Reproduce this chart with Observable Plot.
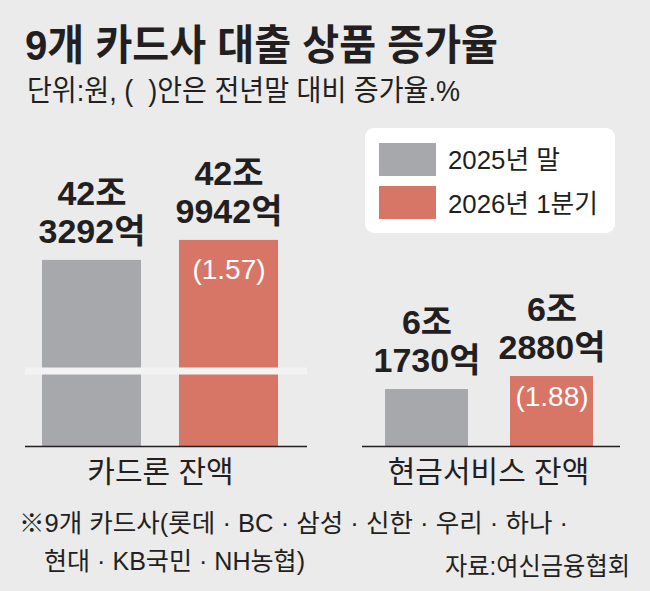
<!DOCTYPE html>
<html><head><meta charset="utf-8">
<script src="https://cdn.jsdelivr.net/npm/d3@7"></script>
<script src="https://cdn.jsdelivr.net/npm/@observablehq/plot@0.6"></script>
<style>
body{margin:0;background:#ebebeb;}
#wrap{position:relative;width:650px;height:591px;background:#ebebeb;overflow:hidden;font-family:"Liberation Sans","Noto Sans CJK KR",sans-serif;color:#231f20;}
.t{position:absolute;white-space:pre;line-height:1;}
.panel{position:absolute;top:120px;}
</style></head><body>
<div id="wrap"></div>
<script>
// ---- data ----
const series = ["2025년 말", "2026년 1분기"];
const seriesColors = ["#a7a8ab", "#d77566"];
const categories = ["카드론 잔액", "현금서비스 잔액"];
const cardLoan = [42.3292, 42.9942];   // 조원
const cashService = [6.1730, 6.2880];  // 조원
const growthRates = [1.57, 1.88];      // 전년말 대비 증가율 %
const titleText = "9개 카드사 대출 상품 증가율";
const subtitleText = "단위:원, (  )안은 전년말 대비 증가율.%";
const noteLines = ["※9개 카드사(롯데 · BC · 삼성 · 신한 · 우리 · 하나 ·", "현대 · KB국민 · NH농협)"];
const sourceText = "자료:여신금융협회";

const wrap = document.getElementById("wrap");
const FONT = "Liberation Sans, Noto Sans CJK KR, sans-serif";

// place an HTML text and squeeze it horizontally to a target width
function htmlText(parent, txt, css, targetWidth, origin) {
  const d = document.createElement("div");
  d.className = "t";
  d.textContent = txt;
  Object.assign(d.style, css);
  parent.appendChild(d);
  const w = d.getBoundingClientRect().width;
  d.style.transformOrigin = origin || "left center";
  d.style.transform = `scaleX(${targetWidth / w})`;
  return d;
}

htmlText(wrap, titleText, {left: "25px", top: "25px", fontSize: "42px", fontWeight: "700"}, 473);
htmlText(wrap, subtitleText, {left: "27px", top: "77px", fontSize: "29px"}, 433);
htmlText(wrap, noteLines[0], {left: "19px", top: "511px", fontSize: "25px"}, 549);
htmlText(wrap, noteLines[1], {left: "44px", top: "549px", fontSize: "25px"}, 261);
htmlText(wrap, sourceText, {right: "20px", top: "554px", fontSize: "25px"}, 185, "right center");

const zo = v => `${Math.floor(v)}조`;
const eok = v => `${Math.round((v - Math.floor(v)) * 10000)}억`;

function panel({category, values, growth, yDomain, width, marginLeft, marginRight, xRange, paddingInner, growthDy, breakAt, labelDx}) {
  const data = series.map((s, i) => ({series: s, value: values[i]}));
  const marks = [
    Plot.barY(data, {x: "series", y1: yDomain[0], y2: "value", fill: "series"})
  ];
  if (breakAt != null) marks.push(Plot.ruleY([breakAt], {stroke: "#f3f3f3", strokeWidth: 7}));
  marks.push(
    Plot.ruleY([yDomain[0]], {stroke: "#231f20", strokeWidth: 1.5}),
    Plot.text(data, {x: "series", y: "value", text: d => eok(d.value), dy: -28, fontSize: 34, fontWeight: "bold", fill: "#231f20", ariaLabel: "value-bottom"}),
    Plot.text(data, {x: "series", y: "value", text: d => zo(d.value), dy: -66, fontSize: 34, fontWeight: "bold", fill: "#231f20", ariaLabel: "value-top"}),
    Plot.text([data[1]], {x: "series", y: "value", text: () => `(${growth.toFixed(2)})`, dy: growthDy, fontSize: 28, fill: "white", ariaLabel: "growth"}),
    Plot.text([category], {text: d => d, frameAnchor: "bottom", lineAnchor: "middle", dy: 26, dx: labelDx, fontSize: 30, fill: "#231f20", ariaLabel: "category"})
  );
  return Plot.plot({
    width, height: 370, marginTop: 0, marginBottom: 44, marginLeft, marginRight,
    x: {domain: series, range: xRange, paddingInner, paddingOuter: 0, axis: null},
    y: {domain: yDomain, axis: null},
    color: {domain: series, range: seriesColors},
    style: {background: "transparent", fontFamily: FONT, overflow: "visible"},
    marks
  });
}

function squeeze(svg, label, r) {
  svg.querySelectorAll(`g[aria-label="${label}"] text`).forEach(t => {
    const L = t.getComputedTextLength();
    t.setAttribute("textLength", (L * r).toFixed(1));
    t.setAttribute("lengthAdjust", "spacingAndGlyphs");
  });
}
function fitWidth(svg, label, w) {
  svg.querySelectorAll(`g[aria-label="${label}"] text`).forEach(t => {
    t.setAttribute("textLength", w);
    t.setAttribute("lengthAdjust", "spacingAndGlyphs");
  });
}

const left = panel({category: categories[0], values: cardLoan, growth: growthRates[0],
  yDomain: [36.145, 46.98], width: 330, marginLeft: 25, marginRight: 23,
  xRange: [42, 278], paddingInner: 38 / 137, growthDy: 30, breakAt: 38.655, labelDx: -6});
left.classList.add("panel"); left.style.left = "0px";
wrap.appendChild(left);

const right = panel({category: categories[1], values: cashService, growth: growthRates[1],
  yDomain: [5.669, 8.553], width: 320, marginLeft: 32, marginRight: 30,
  xRange: [55, 264], paddingInner: 42 / 125.5, growthDy: 21, breakAt: null, labelDx: -3});
right.classList.add("panel"); right.style.left = "330px";
wrap.appendChild(right);

for (const svg of [left, right]) {
  squeeze(svg, "value-bottom", 0.9);
  squeeze(svg, "value-top", 0.9);
}
fitWidth(left, "category", 140);
fitWidth(right, "category", 187);

// legend
const leg = document.createElement("div");
Object.assign(leg.style, {position: "absolute", left: "365px", top: "128px", width: "250px", height: "105px", background: "#fff", borderRadius: "9px"});
wrap.appendChild(leg);
const legendWidths = [112, 150];
series.forEach((s, i) => {
  const sw = document.createElement("div");
  Object.assign(sw.style, {position: "absolute", left: "14px", top: (15 + i * 43) + "px", width: "57px", height: "33px", background: seriesColors[i]});
  leg.appendChild(sw);
  htmlText(leg, s, {left: "83px", top: (31 + i * 44 - 12) + "px", fontSize: "26px"}, legendWidths[i]);
});
</script>
</body></html>
